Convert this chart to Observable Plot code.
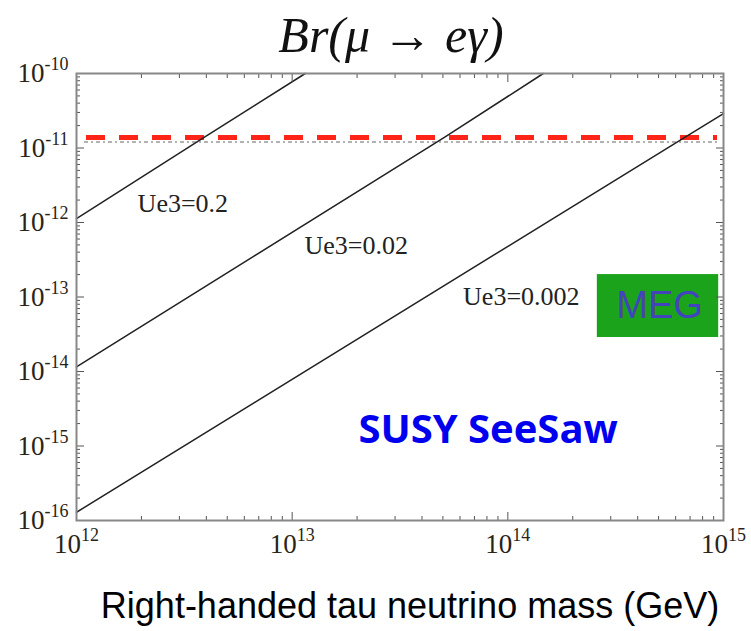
<!DOCTYPE html>
<html><head><meta charset="utf-8">
<script src="https://cdn.jsdelivr.net/npm/d3@7"></script>
<script src="https://cdn.jsdelivr.net/npm/@observablehq/plot@0.6"></script>
<style>body{margin:0;background:#fff}</style>
</head><body><div id="chart"></div>
<script>
// ---- data ----
const seriesNames = ["Ue3=0.2", "Ue3=0.02", "Ue3=0.002"];
const massPoints = [[1e12, 3.84e12, 1.15e13], [1e12, 5.1e13, 1.46e14], [1e12, 6.5e14, 1e15]];
const brPoints = [[1.13e-12, 1.35e-11, 1e-10], [1.15e-14, 1.4e-11, 1e-10], [1.29e-16, 1.35e-11, 2.9e-11]];
const labelMass = [1.92e12, 1.14e13, 6.2e13];
const labelBr = [1.8e-12, 4.9e-13, 1.02e-13];
const megBound = [1.38e-11];
const megaBound = [1.2e-11];
const megBoxMass = [2.6e14, 9.5e14];
const megBoxBr = [2.86e-14, 2.0e-13];
const megTextPos = [5.05e14, 7.7e-14];
const susyTextPos = [8.1e13, 1.62e-15];
const xMajor = [1e12, 1e13, 1e14, 1e15];
const yMajor = [1e-16, 1e-15, 1e-14, 1e-13, 1e-12, 1e-11, 1e-10];
const titleText = "Br(μ → eγ)";
const xLabelText = "Right-handed tau neutrino mass (GeV)";
const boxLabel = "MEG";
const modelLabel = "SUSY SeeSaw";

// minor tick positions (2..9 per decade)
const minorOf = (majors) => majors.slice(0, -1).flatMap(m => [2,3,4,5,6,7,8,9].map(k => k * m));
const xMinor = minorOf(xMajor);
const yMinor = minorOf(yMajor);

const lines = seriesNames.flatMap((s, i) => massPoints[i].map((m, j) => ({series: s, mass: m, br: brPoints[i][j]})));
const labels = seriesNames.map((s, i) => ({text: s, mass: labelMass[i], br: labelBr[i]}));
const box = [{x1: megBoxMass[0], x2: megBoxMass[1], y1: megBoxBr[0], y2: megBoxBr[1]}];

const fmt = d => "10^" + Math.round(Math.log10(d));
const tickStroke = "#555";

const plot = Plot.plot({
  width: 751, height: 631,
  marginLeft: 76, marginRight: 28, marginTop: 73, marginBottom: 111,
  x: {type: "log", domain: [1e12, 1e15]},
  y: {type: "log", domain: [1e-16, 1e-10]},
  style: {fontFamily: "Liberation Serif", background: "#fff", color: "#222"},
  marks: [
    Plot.rect(box, {x1: "x1", x2: "x2", y1: "y1", y2: "y2", fill: "#1ba31b"}),
    Plot.text([boxLabel], {x: () => megTextPos[0], y: () => megTextPos[1], fontSize: 38, fontFamily: "Liberation Sans", fill: "#4144bd"}),
    Plot.text([modelLabel], {x: () => susyTextPos[0], y: () => susyTextPos[1], fontSize: 40, fontWeight: "bold", fontFamily: "Open Sans", fill: "#0000ee"}),
    Plot.ruleY(megaBound, {stroke: "#999", strokeWidth: 1.5, strokeDasharray: "4,3,2,3", insetLeft: 8, insetRight: 4}),
    Plot.ruleY(megBound, {stroke: "#ff2418", strokeWidth: 5, strokeDasharray: "19,14", insetLeft: 10, insetRight: 6}),
    Plot.line(lines, {x: "mass", y: "br", z: "series", stroke: "#222", strokeWidth: 1.5}),
    Plot.text(labels, {x: "mass", y: "br", text: "text", textAnchor: "start", fontSize: 26, fill: "#222"}),
    // axis labels
    Plot.axisX(xMajor, {anchor: "bottom", tickSize: 0, tickPadding: 13, tickFormat: fmt, fontSize: 27, label: null}),
    Plot.axisY(yMajor, {anchor: "left", tickSize: 0, tickPadding: 8, tickFormat: fmt, fontSize: 27, label: null}),
    // inward ticks on all four sides
    Plot.axisX(xMajor, {anchor: "bottom", tickSize: -8, fill: "none", label: null, stroke: tickStroke}),
    Plot.axisX(xMinor, {anchor: "bottom", tickSize: -4, fill: "none", label: null, stroke: tickStroke}),
    Plot.axisX(xMajor, {anchor: "top", tickSize: -8, fill: "none", label: null, stroke: tickStroke}),
    Plot.axisX(xMinor, {anchor: "top", tickSize: -4, fill: "none", label: null, stroke: tickStroke}),
    Plot.axisY(yMajor, {anchor: "left", tickSize: -8, fill: "none", label: null, stroke: tickStroke}),
    Plot.axisY(yMinor, {anchor: "left", tickSize: -4, fill: "none", label: null, stroke: tickStroke}),
    Plot.axisY(yMajor, {anchor: "right", tickSize: -8, fill: "none", label: null, stroke: tickStroke}),
    Plot.axisY(yMinor, {anchor: "right", tickSize: -4, fill: "none", label: null, stroke: tickStroke}),
    Plot.frame({stroke: "#888", strokeWidth: 2}),
    // title and x label
    Plot.text([titleText], {frameAnchor: "top", lineAnchor: "middle", dy: -38, dx: -9, fontSize: 50, fontStyle: "italic", fontFamily: "Liberation Serif", fill: "#111"}),
    Plot.text([xLabelText], {frameAnchor: "bottom", lineAnchor: "middle", dy: 86, dx: 10, fontSize: 36, fontFamily: "Liberation Sans", fill: "#000"})
  ]
});

// superscript exponents in tick labels
d3.select(plot).selectAll('g[aria-label$="tick label"] text').each(function () {
  const t = this.textContent;
  if (!t.includes("^")) return;
  const [b, e] = t.split("^");
  const s = d3.select(this);
  s.text(null).attr("font-size", "27").attr("fill", "#2a2418");
  s.append("tspan").attr("font-size", "27").text(b);
  s.append("tspan").attr("dy", "-12").attr("font-size", "18").text(e);
});

document.getElementById("chart").appendChild(plot);
</script>
</body></html>
